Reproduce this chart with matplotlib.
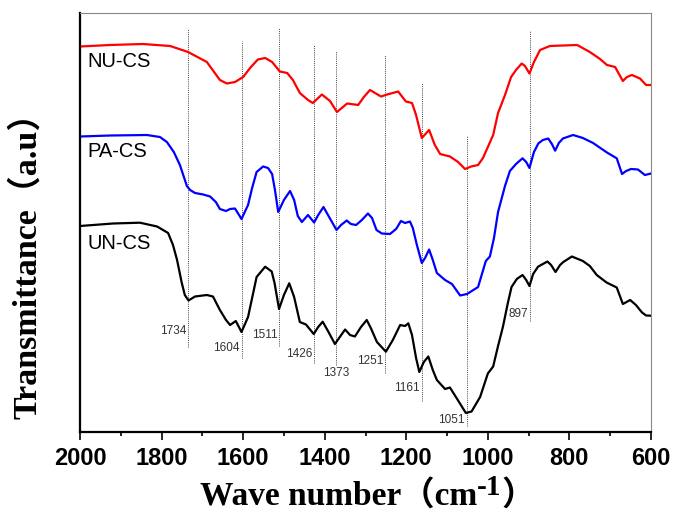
import matplotlib
matplotlib.use("Agg")
import matplotlib.pyplot as plt
from matplotlib.ticker import MultipleLocator

# --- spectra (wavenumber cm-1, transmittance a.u., offset stack) ---
nu_wn = [2000, 1926, 1846, 1779, 1735, 1689, 1657, 1640, 1620, 1600, 1583, 1564,
         1546, 1529, 1510, 1492, 1478, 1461, 1441, 1429, 1407, 1387, 1370, 1345,
         1318, 1304, 1289, 1262, 1247, 1220, 1201, 1186, 1176, 1162, 1144, 1130,
         1117, 1093, 1073, 1056, 1041, 1024, 1012, 1000, 987, 975, 958, 943, 931,
         917, 909, 898, 887, 872, 848, 816, 781, 750, 725, 708, 688, 669, 659, 647,
         627, 612, 600]
nu_t = [385.5, 387, 388, 386, 380, 370, 352, 348.5, 350, 355, 364, 372.5,
        374, 370, 360.5, 359, 352, 339, 332, 329, 337.5, 331, 320, 328.5,
        327, 335, 342, 335.5, 337.5, 340.5, 330.5, 329, 317, 294, 302, 287,
        278, 275.5, 270, 263, 265.5, 267, 274, 285, 297, 319, 337, 355, 362,
        368.5, 366, 358.5, 370, 382, 386, 386.5, 387, 380, 373, 367, 365, 351, 355, 357,
        353.5, 347, 347]

pa_wn = [2000, 1926, 1836, 1804, 1787, 1770, 1755, 1738, 1730, 1718, 1698, 1681,
         1667, 1657, 1642, 1632, 1620, 1604, 1588, 1578, 1567, 1551, 1539, 1529,
         1522, 1514, 1500, 1485, 1475, 1466, 1456, 1441, 1426, 1416, 1403, 1392,
         1371, 1360, 1346, 1336, 1323, 1309, 1294, 1284, 1273, 1260, 1240, 1225,
         1213, 1203, 1191, 1184, 1174, 1162, 1154, 1144, 1135, 1125, 1105, 1088,
         1068, 1051, 1024, 1005, 995, 985, 975, 958, 946, 931, 915, 906, 898, 887,
         876, 865, 852, 843, 835, 826, 816, 791, 767, 742, 708, 684, 671, 661, 649,
         632, 615, 600]
pa_t = [295.5, 296.5, 297, 295, 290, 280, 267, 246, 242, 239, 237.5, 235.5,
        230, 223, 221, 223, 223.5, 213, 227, 244, 260, 265.5, 264, 258,
        242, 220, 232, 241, 232, 216, 210, 217, 209.5, 217, 225, 217,
        202, 207, 211.5, 208, 207, 212, 218.5, 214, 202, 198.5, 198, 203,
        211, 209, 210.5, 204, 187, 169, 174, 182.5, 172, 159, 152, 148,
        136.5, 138, 145, 171, 175.5, 194, 220, 246, 261, 268, 273.7, 270, 264, 280,
        288.7, 292, 293.5, 288, 281.3, 289, 293.5, 297, 294, 289, 279.5, 273.7, 258, 261, 263,
        262.5, 257, 258.5]

un_wn = [2000, 1919, 1853, 1811, 1784, 1772, 1762, 1751, 1743, 1734, 1718, 1689,
         1674, 1657, 1642, 1632, 1618, 1604, 1588, 1578, 1567, 1546, 1530, 1523,
         1512, 1500, 1487, 1475, 1461, 1446, 1427, 1416, 1405, 1392, 1375, 1363,
         1350, 1338, 1326, 1311, 1297, 1287, 1272, 1250, 1233, 1215, 1203, 1195,
         1186, 1176, 1168, 1157, 1146, 1135, 1125, 1105, 1093, 1076, 1054, 1040,
         1019, 1000, 987, 975, 963, 951, 942, 929, 915, 906, 898, 889, 877, 854,
         845, 834, 823, 815, 794, 767, 750, 733, 709, 684, 669, 651, 637, 622, 612, 600]
un_t = [206, 208.5, 209.3, 205.5, 199, 187, 172, 150, 137, 131.5, 135.5, 137,
        135.5, 122, 112, 107, 111, 100, 115, 134, 155, 165.3, 160.5, 149,
        123, 137, 148.7, 135, 110, 107.5, 98, 105, 110.3, 101, 88, 95,
        102.5, 97, 95.5, 105, 112, 104, 90, 80.3, 92, 107, 106, 108.7,
        97, 74, 60, 70, 75.5, 62, 52, 43, 44.5, 33.5, 19, 20.5,
        35, 58.5, 65.5, 86, 105.3, 129, 145, 153, 157, 152, 146, 158, 165.3, 170.5,
        167, 160, 167, 170, 175.5, 171, 166, 157, 149.5, 144.5, 128, 132, 127, 119.5, 116.5, 116.3]

# marked bands: position, dotted-line top/bottom, label height
band_wn = [1734, 1604, 1511, 1426, 1373, 1251, 1161, 1051, 897]
band_top = [402.7, 391.3, 403.7, 387, 381.3, 377, 349.3, 296, 401.3]
band_bottom = [85.3, 73.7, 86, 68.7, 67, 59.3, 31.3, 6, 111.3]
band_label_y = [101, 83.7, 97, 77.7, 58.7, 71, 43.7, 12, 117.7]

series_names = ["NU-CS", "PA-CS", "UN-CS"]
series_label_y = [370.3, 280.3, 188.7]

serif = ["Liberation Serif", "Noto Sans CJK SC", "DejaVu Serif"]
sans = ["Liberation Sans", "DejaVu Sans"]

fig = plt.figure(figsize=(6.75, 5.12), dpi=100)
ax = fig.add_axes([80 / 675, 80 / 512, 571 / 675, 419 / 512])

ax.plot(nu_wn, nu_t, color="#ff0000", lw=1.6)
ax.plot(pa_wn, pa_t, color="#0000ff", lw=1.6)
ax.plot(un_wn, un_t, color="#000000", lw=1.6)

for wn, top, bot, ly in zip(band_wn, band_top, band_bottom, band_label_y):
    ax.plot([wn, wn], [bot, top], color="#444444", lw=0.7, ls=(0, (1, 1.2)), zorder=1)
    if wn == 1373:
        ax.annotate(str(wn), (wn, ly), ha="center", va="center", fontsize=8.5,
                    color="#333333", family=sans)
    else:
        ax.annotate(str(wn), (wn, ly), xytext=(-1.5, 0), textcoords="offset points",
                    ha="right", va="center", fontsize=8.5, color="#333333", family=sans)

for name, ly in zip(series_names, series_label_y):
    ax.text(1981, ly, name, ha="left", va="center", fontsize=14.5, family=sans)

ax.set_xlim(2000, 600)
ax.set_ylim(0, 419)
ax.set_yticks([])
ax.xaxis.set_major_locator(MultipleLocator(200))
ax.xaxis.set_minor_locator(MultipleLocator(100))
ax.tick_params(axis="x", which="major", direction="out", length=6, width=1.2, pad=5)
ax.tick_params(axis="x", which="minor", direction="out", length=3, width=1.2)
for lab in ax.get_xticklabels():
    lab.set_fontfamily(sans)
    lab.set_fontweight("bold")
    lab.set_fontsize(17)

for side in ("left", "bottom"):
    ax.spines[side].set_linewidth(1.6)
    ax.spines[side].set_color("black")
for side in ("top", "right"):
    ax.spines[side].set_linewidth(0.8)
    ax.spines[side].set_color("#888888")

# axis titles
fig.text(27 / 675, 255 / 512, "Transmittance（a.u）", rotation=90, ha="center",
         va="center", fontsize=24.5, fontweight="bold", family=serif)
t1 = fig.text(200 / 675, 7 / 512, "Wave number（cm", ha="left", va="baseline",
              fontsize=24, fontweight="bold", family=serif)
t2 = ax.annotate("-1", xy=(1, 17 / 512), xycoords=(t1, "figure fraction"),
                 ha="left", va="baseline", fontsize=21, fontweight="bold", family=serif,
                 annotation_clip=False)
ax.annotate("）", xy=(1, 7 / 512), xycoords=(t2, "figure fraction"), ha="left",
            va="baseline", fontsize=24, fontweight="bold", family=serif,
            annotation_clip=False)

fig.savefig("out.png", dpi=100)
